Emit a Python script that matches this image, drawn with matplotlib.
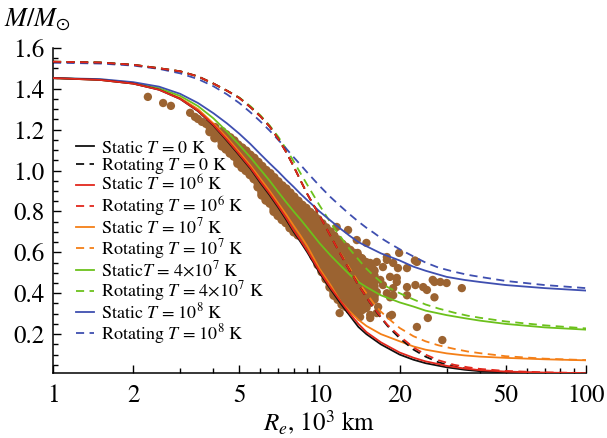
import matplotlib
matplotlib.use("Agg")
import matplotlib.pyplot as plt
from matplotlib.ticker import FixedLocator, NullFormatter, MultipleLocator, FormatStrFormatter

plt.rcParams['font.family'] = 'STIXGeneral'
plt.rcParams['mathtext.fontset'] = 'stix'

# ---- model curves: equatorial radius (10^3 km) vs mass (M_sun) ----
R_s0 = [1, 1.5, 2, 2.5, 3, 3.5, 4, 4.5, 5, 5.5, 6, 6.5, 7, 7.5, 8, 8.5, 9, 10, 11, 12, 13, 14, 15, 17, 20, 22.5, 25, 30, 35, 40, 50, 70, 100]
M_s0 = [1.452, 1.443, 1.425, 1.395, 1.35, 1.29, 1.22, 1.145, 1.075, 1.01, 0.94, 0.88, 0.82, 0.76, 0.70, 0.65, 0.60, 0.50, 0.42, 0.35, 0.29, 0.235, 0.20, 0.15, 0.10, 0.075, 0.058, 0.038, 0.026, 0.019, 0.013, 0.009, 0.007]
M_s6 = [1.452, 1.443, 1.425, 1.395, 1.35, 1.292, 1.223, 1.15, 1.08, 1.015, 0.947, 0.887, 0.827, 0.768, 0.708, 0.658, 0.608, 0.508, 0.427, 0.36, 0.30, 0.25, 0.21, 0.16, 0.11, 0.085, 0.067, 0.045, 0.032, 0.024, 0.017, 0.012, 0.009]
M_s7 = [1.452, 1.443, 1.425, 1.397, 1.355, 1.30, 1.23, 1.16, 1.09, 1.025, 0.96, 0.90, 0.84, 0.785, 0.73, 0.68, 0.63, 0.52, 0.44, 0.36, 0.31, 0.27, 0.24, 0.20, 0.165, 0.14, 0.124, 0.106, 0.096, 0.09, 0.084, 0.077, 0.072]
M_s4e7 = [1.452, 1.445, 1.428, 1.402, 1.365, 1.315, 1.255, 1.19, 1.125, 1.065, 1.005, 0.95, 0.895, 0.845, 0.80, 0.76, 0.72, 0.645, 0.585, 0.535, 0.49, 0.455, 0.43, 0.39, 0.355, 0.335, 0.315, 0.293, 0.278, 0.266, 0.25, 0.233, 0.222]
M_s8 = [1.452, 1.447, 1.432, 1.41, 1.375, 1.33, 1.28, 1.23, 1.18, 1.13, 1.08, 1.035, 0.995, 0.955, 0.92, 0.885, 0.855, 0.80, 0.755, 0.715, 0.68, 0.65, 0.63, 0.595, 0.56, 0.53, 0.51, 0.48, 0.465, 0.455, 0.44, 0.425, 0.413]

R_r = [1, 1.5, 2, 2.5, 3, 3.5, 4, 4.5, 5, 5.5, 6, 6.5, 7, 7.5, 8, 8.5, 9, 10, 11, 12, 13, 14, 15, 16, 17, 18, 20, 22.5, 25, 28, 32, 36, 40, 50, 70, 100]
M_r0 = [1.532, 1.528, 1.517, 1.50, 1.485, 1.46, 1.425, 1.39, 1.355, 1.31, 1.265, 1.215, 1.155, 1.09, 1.02, 0.95, 0.885, 0.78, 0.68, 0.59, 0.51, 0.44, 0.38, 0.325, 0.28, 0.24, 0.18, 0.125, 0.09, 0.062, 0.042, 0.03, 0.022, 0.014, 0.01, 0.008]
M_r6 = [1.532, 1.528, 1.517, 1.50, 1.485, 1.46, 1.425, 1.39, 1.355, 1.31, 1.265, 1.215, 1.155, 1.09, 1.02, 0.95, 0.885, 0.78, 0.68, 0.59, 0.51, 0.44, 0.38, 0.328, 0.284, 0.245, 0.19, 0.135, 0.10, 0.072, 0.05, 0.038, 0.03, 0.02, 0.013, 0.01]
M_r7 = [1.532, 1.528, 1.517, 1.50, 1.485, 1.46, 1.425, 1.39, 1.355, 1.31, 1.265, 1.215, 1.155, 1.09, 1.02, 0.95, 0.885, 0.78, 0.68, 0.595, 0.52, 0.455, 0.40, 0.35, 0.31, 0.28, 0.23, 0.19, 0.165, 0.145, 0.128, 0.115, 0.107, 0.092, 0.08, 0.073]
M_r4e7 = [1.532, 1.528, 1.517, 1.50, 1.485, 1.46, 1.425, 1.39, 1.357, 1.315, 1.27, 1.22, 1.165, 1.105, 1.045, 0.985, 0.93, 0.83, 0.745, 0.675, 0.615, 0.565, 0.52, 0.485, 0.455, 0.43, 0.40, 0.37, 0.345, 0.325, 0.305, 0.29, 0.28, 0.262, 0.243, 0.228]
M_r8 = [1.527, 1.523, 1.513, 1.497, 1.475, 1.447, 1.412, 1.372, 1.33, 1.285, 1.24, 1.195, 1.15, 1.107, 1.065, 1.027, 0.99, 0.925, 0.87, 0.825, 0.785, 0.75, 0.72, 0.695, 0.67, 0.65, 0.615, 0.58, 0.55, 0.525, 0.505, 0.49, 0.48, 0.46, 0.44, 0.425]

# ---- observed white dwarfs: scattered objects ----
obs_R = [2.27, 2.59, 2.77, 3.27, 3.41, 3.50, 3.62, 3.75,
         7.9, 8.6, 9.7, 10.2, 10.95, 11.9, 12.8, 13.9, 14.4, 15.5, 16.4, 17.9, 18.9, 17.3, 15.8, 19.7,
         16.9, 18.4, 19.5, 17.3, 16.4, 17.9, 18.9, 18.4, 15.0, 12.8, 13.8, 15.5, 18.7, 11.9, 13.2,
         19.9, 21.3, 23.2, 22.8, 19.5, 21.3, 22.9, 24.5, 25.3, 27.0, 28.4, 30.0, 34.2, 27.0, 18.9,
         21.3, 25.5, 23.2, 28.9, 18.4, 15.5, 14.2, 16.6, 16.4, 26.6,
         9.78, 12.8, 13.8, 15.0, 11.6, 17.9]
obs_M = [1.36, 1.33, 1.316, 1.282, 1.262, 1.252, 1.238, 1.228,
         0.866, 0.797, 0.729, 0.70, 0.675, 0.626, 0.612, 0.597, 0.572, 0.548, 0.553, 0.563, 0.548, 0.528, 0.523, 0.523,
         0.465, 0.48, 0.455, 0.44, 0.406, 0.40, 0.425, 0.38, 0.367, 0.352, 0.303, 0.294, 0.294, 0.303, 0.328,
         0.597, 0.523, 0.553, 0.56, 0.475, 0.43, 0.44, 0.43, 0.416, 0.455, 0.455, 0.45, 0.425, 0.38, 0.39,
         0.39, 0.279, 0.235, 0.171, 0.289, 0.279, 0.284, 0.333, 0.303, 0.465,
         0.719, 0.709, 0.66, 0.646, 0.724, 0.577]

# ---- dense part of the sample, listed by radius ----
band_R = [3.88, 4.05, 4.31, 4.46, 4.62, 4.78, 4.94, 5.12, 5.30, 5.49, 5.68, 5.88,
          6.08, 6.30, 6.52, 6.75, 6.99, 7.24, 7.49, 7.75, 8.02, 8.31, 8.60, 8.90,
          9.21, 9.54, 9.87, 10.22, 10.58, 10.95, 11.33, 11.74, 12.15, 12.57, 13.01,
          13.48, 13.95, 14.44, 14.95, 15.48, 16.02]
band_M = [[1.215, 1.19],
          [1.21, 1.185, 1.16],
          [1.19, 1.165, 1.14, 1.12],
          [1.175, 1.15, 1.125, 1.105],
          [1.16, 1.135, 1.11, 1.085],
          [1.145, 1.12, 1.095, 1.07],
          [1.125, 1.10, 1.075, 1.05, 1.035],
          [1.11, 1.085, 1.06, 1.035, 1.015],
          [1.095, 1.07, 1.045, 1.02, 1.0],
          [1.075, 1.05, 1.025, 1.0, 0.98],
          [1.06, 1.035, 1.01, 0.985, 0.96],
          [1.04, 1.015, 0.99, 0.965, 0.94, 0.92],
          [1.02, 0.995, 0.97, 0.945, 0.92, 0.895, 0.88],
          [1.0, 0.975, 0.95, 0.925, 0.90, 0.875, 0.855],
          [0.985, 0.96, 0.935, 0.91, 0.885, 0.86, 0.84],
          [0.965, 0.94, 0.915, 0.89, 0.865, 0.84, 0.815, 0.80],
          [0.945, 0.92, 0.895, 0.87, 0.845, 0.82, 0.795, 0.78],
          [0.925, 0.90, 0.875, 0.85, 0.825, 0.80, 0.775, 0.76],
          [0.91, 0.885, 0.86, 0.835, 0.81, 0.785, 0.76, 0.745],
          [0.89, 0.865, 0.84, 0.815, 0.79, 0.765, 0.74, 0.72],
          [0.87, 0.845, 0.82, 0.795, 0.77, 0.745, 0.72, 0.70],
          [0.85, 0.825, 0.80, 0.775, 0.75, 0.725, 0.70, 0.685],
          [0.83, 0.805, 0.78, 0.755, 0.73, 0.705, 0.68],
          [0.815, 0.79, 0.765, 0.74, 0.715, 0.69, 0.665, 0.65],
          [0.795, 0.77, 0.745, 0.72, 0.695, 0.67, 0.645, 0.62],
          [0.78, 0.755, 0.73, 0.705, 0.68, 0.655, 0.63, 0.605, 0.58],
          [0.76, 0.735, 0.71, 0.685, 0.66, 0.635, 0.61, 0.585, 0.56, 0.54],
          [0.74, 0.715, 0.69, 0.665, 0.64, 0.615, 0.59, 0.565, 0.54, 0.515, 0.505],
          [0.72, 0.695, 0.67, 0.645, 0.62, 0.595, 0.57, 0.545, 0.52, 0.495, 0.47],
          [0.70, 0.675, 0.65, 0.625, 0.60, 0.575, 0.55, 0.525, 0.50, 0.475, 0.45, 0.43],
          [0.68, 0.655, 0.63, 0.605, 0.58, 0.555, 0.53, 0.505, 0.48, 0.455, 0.43, 0.405, 0.39],
          [0.66, 0.635, 0.61, 0.585, 0.56, 0.535, 0.51, 0.485, 0.46, 0.435, 0.41, 0.385, 0.37],
          [0.64, 0.615, 0.59, 0.565, 0.54, 0.515, 0.49, 0.465, 0.44, 0.415, 0.39, 0.365, 0.345],
          [0.625, 0.60, 0.575, 0.55, 0.525, 0.50, 0.475, 0.45, 0.425, 0.40, 0.375, 0.35, 0.335],
          [0.61, 0.585, 0.56, 0.535, 0.51, 0.485, 0.46, 0.435, 0.41, 0.385, 0.36, 0.335, 0.32],
          [0.595, 0.57, 0.545, 0.52, 0.495, 0.47, 0.445, 0.42, 0.395, 0.37, 0.345, 0.32],
          [0.58, 0.555, 0.53, 0.505, 0.48, 0.455, 0.43, 0.405, 0.38, 0.355, 0.33, 0.31],
          [0.565, 0.54, 0.515, 0.49, 0.465, 0.44, 0.415, 0.39, 0.365, 0.34, 0.32],
          [0.55, 0.525, 0.50, 0.475, 0.45, 0.425, 0.40, 0.375, 0.35, 0.33],
          [0.53, 0.505, 0.48, 0.455, 0.43, 0.405, 0.38, 0.355],
          [0.51, 0.485, 0.46, 0.435, 0.41, 0.385, 0.37]]

BROWN = '#9b6331'
BLACK, RED, ORANGE, GREEN, BLUE = '#111111', '#e2271c', '#f47f17', '#6cc11c', '#3f4fb0'

fig = plt.figure(figsize=(6.07, 4.38), dpi=100)
ax = fig.add_axes([0.0873, 0.1484, 0.8781, 0.7425])

# observations under the curves
bx, by = [], []
for r, ms in zip(band_R, band_M):
    for m in ms:
        bx.append(r)
        by.append(m)
ax.scatter(bx, by, s=46, color=BROWN, edgecolors='none', zorder=1)
ax.scatter(obs_R, obs_M, s=36, color=BROWN, edgecolors='none', zorder=1)

lw = 1.3
dash = (4.5, 3)
ax.plot(R_s0, M_s0, color=BLACK, lw=lw, label='Static $T$ = 0 K', zorder=3)
ax.plot(R_r, M_r0, color=BLACK, lw=lw, dashes=dash, label='Rotating $T$ = 0 K', zorder=3)
ax.plot(R_s0, M_s6, color=RED, lw=lw, label='Static $T$ = 10$^6$ K', zorder=3)
ax.plot(R_r, M_r6, color=RED, lw=lw, dashes=dash, label='Rotating $T$ = 10$^6$ K', zorder=3)
ax.plot(R_s0, M_s7, color=ORANGE, lw=lw, label='Static $T$ = 10$^7$ K', zorder=2)
ax.plot(R_r, M_r7, color=ORANGE, lw=lw, dashes=dash, label='Rotating $T$ = 10$^7$ K', zorder=2)
ax.plot(R_s0, M_s4e7, color=GREEN, lw=lw, label='Static$T$ = 4×10$^7$ K', zorder=2)
ax.plot(R_r, M_r4e7, color=GREEN, lw=lw, dashes=dash, label='Rotating $T$ = 4×10$^7$ K', zorder=2)
ax.plot(R_s0, M_s8, color=BLUE, lw=lw, label='Static $T$ = 10$^8$ K', zorder=2)
ax.plot(R_r, M_r8, color=BLUE, lw=lw, dashes=dash, label='Rotating $T$ = 10$^8$ K', zorder=2)

ax.set_xscale('log')
ax.set_xlim(1, 100)
ax.set_ylim(0.01, 1.6)

ax.xaxis.set_major_locator(FixedLocator([1, 2, 5, 10, 20, 50, 100]))
ax.xaxis.set_minor_locator(FixedLocator([3, 4, 6, 7, 8, 9, 30, 40, 60, 70, 80, 90]))
ax.xaxis.set_minor_formatter(NullFormatter())
ax.set_xticklabels(['1', '2', '5', '10', '20', '50', '100'])
ax.yaxis.set_major_locator(FixedLocator([0.2, 0.4, 0.6, 0.8, 1.0, 1.2, 1.4, 1.6]))
ax.yaxis.set_minor_locator(MultipleLocator(0.05))
ax.yaxis.set_major_formatter(FormatStrFormatter('%.1f'))

ax.tick_params(which='both', direction='in', labelsize=18, width=1)
ax.tick_params(which='major', length=6)
ax.tick_params(which='minor', length=3.5)
ax.tick_params(axis='x', pad=8)
ax.tick_params(axis='y', pad=6)
for side in ('top', 'right'):
    ax.spines[side].set_visible(False)
for side in ('left', 'bottom'):
    ax.spines[side].set_linewidth(1.1)

ax.set_xlabel('$R_e$, 10$^3$ km', fontsize=18, labelpad=1)
fig.text(0.006, 0.985, '$M/M_{\\odot}$', fontsize=19, va='top', ha='left')

ax.legend(loc='upper left', bbox_to_anchor=(76 / 607, 1 - 140 / 438),
          bbox_transform=fig.transFigure, frameon=False, fontsize=13,
          handlelength=1.0, handletextpad=0.4, labelspacing=-0.04,
          borderpad=0, borderaxespad=0)

fig.savefig('out.png', dpi=100)
